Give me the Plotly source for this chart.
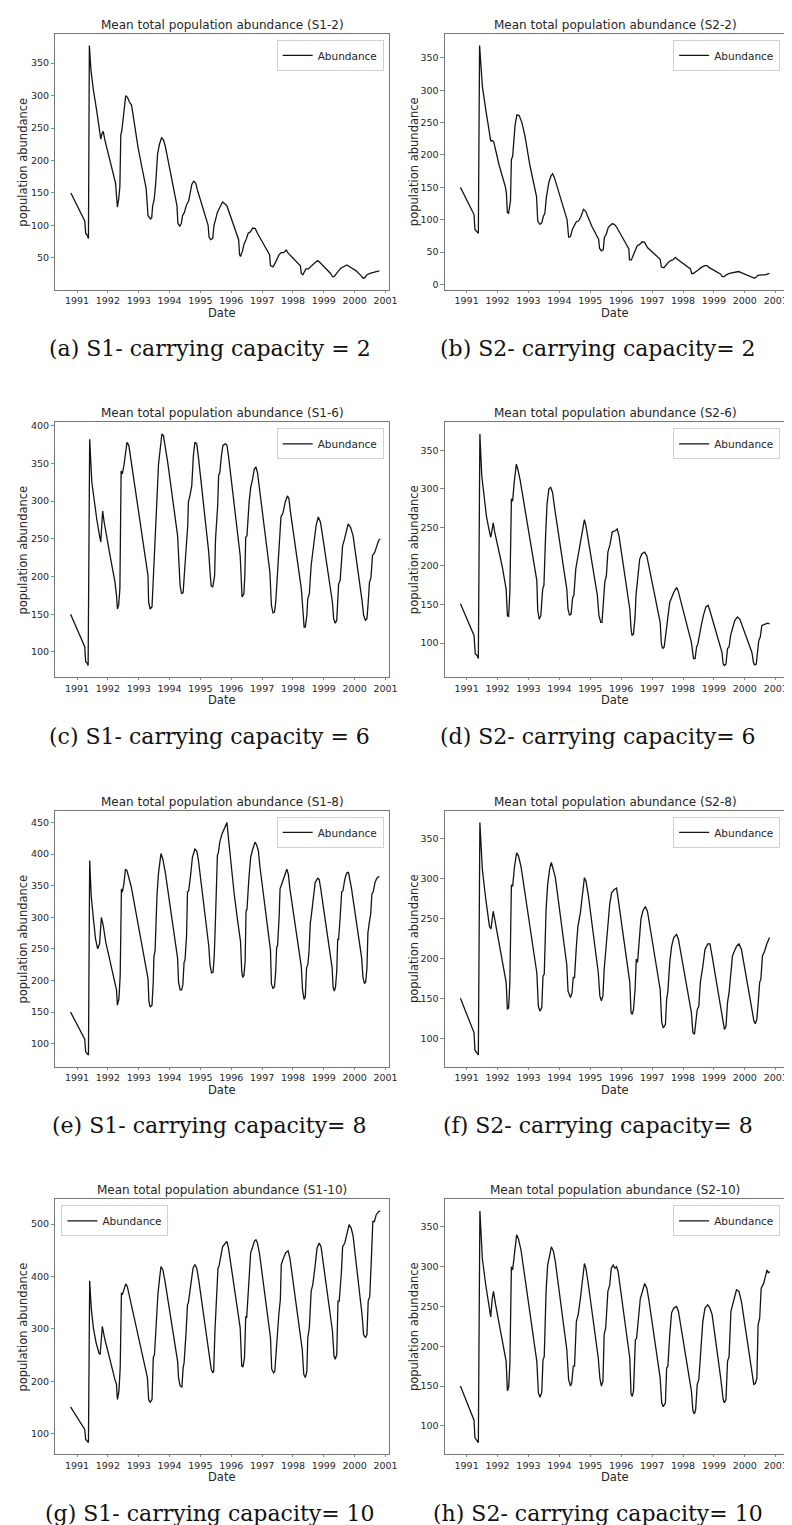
import plotly.graph_objects as go
import pandas as pd

# ---------------- data (decimal year, mean total population abundance) ----------------
s1_2 = [(1990.80,150),(1991.25,107),(1991.28,88),(1991.34,84),(1991.37,80),(1991.40,377),(1991.45,340),(1991.52,312),
        (1991.64,276),(1991.77,233),(1991.80,240),(1991.85,245),(1991.90,232),(1992.05,205),(1992.25,165),(1992.31,128),
        (1992.35,140),(1992.39,160),(1992.42,240),(1992.45,245),(1992.52,270),(1992.58,300),(1992.64,297),(1992.70,290),
        (1992.77,285),(1992.98,220),(1993.10,190),(1993.24,157),(1993.30,115),(1993.38,110),(1993.42,112),(1993.45,130),
        (1993.50,140),(1993.55,165),(1993.61,210),(1993.67,225),(1993.74,235),(1993.80,232),(1993.86,222),(1994.05,175),
        (1994.24,130),(1994.27,103),(1994.33,99),(1994.38,103),(1994.42,115),(1994.48,120),(1994.55,132),(1994.62,138),
        (1994.67,150),(1994.72,163),(1994.78,168),(1994.85,165),(1994.90,155),(1995.25,100),(1995.28,82),(1995.33,78),
        (1995.40,80),(1995.44,100),(1995.48,107),(1995.55,120),(1995.65,130),(1995.72,136),(1995.80,133),(1995.86,130),
        (1996.24,78),(1996.27,55),(1996.30,52),(1996.36,60),(1996.42,72),(1996.48,78),(1996.55,88),(1996.62,90),
        (1996.70,96),(1996.78,95),(1996.85,88),(1997.24,55),(1997.27,38),(1997.35,36),(1997.40,40),(1997.47,48),
        (1997.55,55),(1997.62,58),(1997.70,58),(1997.78,62),(1997.85,57),(1998.24,38),(1998.27,26),(1998.32,24),
        (1998.38,30),(1998.42,33),(1998.50,33),(1998.60,38),(1998.70,42),(1998.80,46),(1998.85,44),(1999.22,26),
        (1999.28,21),(1999.33,21),(1999.40,26),(1999.48,30),(1999.55,34),(1999.65,37),(1999.75,39),(1999.85,36),
        (2000.05,30),(2000.22,22),(2000.27,19),(2000.32,19),(2000.40,24),(2000.50,26),(2000.60,28),(2000.70,29),(2000.80,30)]

s2_2 = [(1990.80,150),(1991.24,108),(1991.27,85),(1991.35,81),(1991.38,79),(1991.42,369),(1991.51,306),(1991.62,270),
        (1991.74,229),(1991.78,222),(1991.84,222),(1991.88,220),(1992.05,185),(1992.26,150),(1992.29,140),(1992.32,111),
        (1992.36,110),(1992.42,129),(1992.45,193),(1992.49,198),(1992.57,247),(1992.63,262),(1992.70,261),(1992.79,250),
        (1992.89,229),(1993.05,183),(1993.26,136),(1993.30,98),(1993.37,93),(1993.43,95),(1993.48,105),(1993.53,110),
        (1993.58,135),(1993.66,158),(1993.73,168),(1993.78,171),(1993.84,165),(1994.05,130),(1994.25,100),(1994.30,73),
        (1994.36,74),(1994.42,85),(1994.48,90),(1994.55,97),(1994.62,98),(1994.70,105),(1994.78,116),(1994.85,113),
        (1995.05,90),(1995.27,70),(1995.30,56),(1995.36,52),(1995.42,54),(1995.46,73),(1995.52,78),(1995.58,88),
        (1995.66,92),(1995.72,94),(1995.80,92),(1995.86,88),(1996.25,55),(1996.27,38),(1996.33,38),(1996.38,44),
        (1996.45,52),(1996.52,60),(1996.60,62),(1996.68,66),(1996.76,65),(1996.85,57),(1997.26,39),(1997.30,27),
        (1997.38,26),(1997.45,31),(1997.52,34),(1997.60,37),(1997.67,38),(1997.75,42),(1997.82,39),(1998.24,24),
        (1998.28,17),(1998.33,17),(1998.40,20),(1998.48,22),(1998.58,26),(1998.70,29),(1998.78,29),(1998.85,26),
        (1999.22,16),(1999.27,12),(1999.33,12),(1999.40,15),(1999.50,17),(1999.60,18),(1999.70,20),(1999.80,20),
        (1999.90,18),(2000.10,14),(2000.24,11),(2000.30,10),(2000.36,11),(2000.42,14),(2000.55,15),(2000.65,15),(2000.80,17)]

s1_6 = [(1990.79,150),(1991.25,107),(1991.28,87),(1991.33,85),(1991.36,82),(1991.41,382),(1991.48,325),(1991.56,299),
        (1991.64,276),(1991.73,254),(1991.77,246),(1991.83,287),(1991.88,272),(1992.07,228),(1992.23,193),(1992.28,175),
        (1992.31,157),(1992.35,162),(1992.39,184),(1992.43,340),(1992.47,336),(1992.52,347),(1992.58,367),(1992.62,378),
        (1992.68,374),(1992.73,360),(1992.98,290),(1993.30,201),(1993.32,166),(1993.37,157),(1993.43,160),(1993.46,184),
        (1993.49,224),(1993.53,237),(1993.59,303),(1993.64,349),(1993.69,371),(1993.75,389),(1993.80,387),(1993.86,371),
        (1993.94,351),(1994.26,254),(1994.31,219),(1994.34,188),(1994.39,177),(1994.44,179),(1994.49,210),(1994.55,243),
        (1994.59,268),(1994.61,299),(1994.66,307),(1994.72,321),(1994.77,360),(1994.82,378),(1994.88,376),(1994.93,360),
        (1995.27,232),(1995.32,201),(1995.35,188),(1995.40,186),(1995.46,201),(1995.49,250),(1995.56,294),(1995.59,334),
        (1995.63,338),(1995.68,360),(1995.73,374),(1995.81,376),(1995.86,374),(1995.91,360),(1996.29,228),(1996.32,201),
        (1996.35,173),(1996.41,177),(1996.44,201),(1996.47,252),(1996.51,254),(1996.58,299),(1996.63,318),(1996.69,329),
        (1996.75,343),(1996.80,345),(1996.85,338),(1997.25,206),(1997.30,162),(1997.35,152),(1997.40,153),(1997.44,166),
        (1997.48,195),(1997.53,217),(1997.58,254),(1997.61,279),(1997.68,285),(1997.75,299),(1997.82,307),(1997.87,303),
        (1997.92,285),(1998.27,184),(1998.32,157),(1998.36,133),(1998.40,133),(1998.45,149),(1998.48,171),(1998.53,177),
        (1998.59,215),(1998.64,232),(1998.69,243),(1998.75,268),(1998.82,279),(1998.89,272),(1998.96,254),(1999.28,166),
        (1999.32,144),(1999.37,138),(1999.42,142),(1999.45,166),(1999.48,190),(1999.53,195),(1999.57,215),(1999.61,241),
        (1999.66,248),(1999.73,259),(1999.79,270),(1999.87,265),(1999.95,254),(2000.24,168),(2000.29,149),(2000.35,142),
        (2000.40,144),(2000.44,166),(2000.48,192),(2000.53,199),(2000.58,228),(2000.65,232),(2000.72,241),(2000.78,248),
        (2000.83,250)]

s2_6 = [(1990.80,151),(1991.24,110),(1991.28,86),(1991.34,84),(1991.38,80),(1991.43,371),(1991.49,317),(1991.56,291),
        (1991.64,265),(1991.72,248),(1991.78,237),(1991.83,248),(1991.86,256),(1991.91,244),(1992.15,200),(1992.28,170),
        (1992.32,136),(1992.36,134),(1992.40,166),(1992.45,287),(1992.49,284),(1992.54,308),(1992.61,332),(1992.66,325),
        (1992.73,312),(1993.27,181),(1993.30,142),(1993.35,131),(1993.40,136),(1993.46,170),(1993.50,175),(1993.55,235),
        (1993.60,280),(1993.66,300),(1993.72,302),(1993.78,295),(1993.85,274),(1994.24,170),(1994.28,144),(1994.33,136),
        (1994.38,138),(1994.43,159),(1994.47,162),(1994.53,196),(1994.60,213),(1994.67,231),(1994.76,252),(1994.81,260),
        (1994.86,252),(1995.23,162),(1995.28,136),(1995.34,127),(1995.38,127),(1995.43,153),(1995.47,179),(1995.52,187),
        (1995.57,218),(1995.64,228),(1995.71,244),(1995.82,246),(1995.87,248),(1995.93,239),(1996.28,144),(1996.32,119),
        (1996.35,110),(1996.40,112),(1996.45,134),(1996.48,162),(1996.53,179),(1996.60,209),(1996.67,216),(1996.76,218),
        (1996.83,213),(1997.26,127),(1997.30,99),(1997.34,93),(1997.39,95),(1997.44,112),(1997.47,119),(1997.53,136),
        (1997.57,153),(1997.63,159),(1997.70,166),(1997.79,172),(1997.84,168),(1998.27,101),(1998.30,90),(1998.34,80),
        (1998.39,80),(1998.44,95),(1998.48,99),(1998.53,108),(1998.59,123),(1998.66,136),(1998.74,147),(1998.81,149),
        (1998.87,142),(1999.26,88),(1999.30,73),(1999.34,71),(1999.39,73),(1999.44,93),(1999.49,95),(1999.54,110),
        (1999.60,119),(1999.67,129),(1999.76,134),(1999.84,131),(2000.23,88),(2000.28,75),(2000.32,72),(2000.37,73),
        (2000.41,88),(2000.45,103),(2000.50,108),(2000.55,123),(2000.62,124),(2000.69,125),(2000.74,126),(2000.80,125)]

s1_8 = [(1990.79,150),(1991.25,107),(1991.28,87),(1991.33,85),(1991.37,82),(1991.41,390),(1991.46,334),(1991.53,298),
        (1991.60,266),(1991.67,250),(1991.73,258),(1991.79,300),(1991.85,287),(1991.93,261),(1992.12,219),(1992.23,192),
        (1992.28,185),(1992.31,161),(1992.36,171),(1992.40,208),(1992.44,345),(1992.47,340),(1992.52,353),(1992.57,376),
        (1992.62,374),(1992.69,361),(1992.76,348),(1993.30,203),(1993.33,166),(1993.37,158),(1993.43,161),(1993.47,198),
        (1993.49,237),(1993.53,248),(1993.59,334),(1993.64,370),(1993.68,385),(1993.72,401),(1993.78,392),(1993.86,371),
        (1994.26,235),(1994.29,198),(1994.34,185),(1994.39,185),(1994.43,193),(1994.47,229),(1994.50,232),(1994.55,271),
        (1994.58,340),(1994.62,342),(1994.68,366),(1994.74,395),(1994.82,408),(1994.88,405),(1994.93,392),(1995.27,255),
        (1995.31,225),(1995.36,212),(1995.41,213),(1995.45,240),(1995.49,300),(1995.55,398),(1995.58,402),(1995.63,420),
        (1995.70,432),(1995.78,440),(1995.86,450),(1995.92,420),(1996.00,380),(1996.10,335),(1996.22,290),(1996.30,262),
        (1996.34,215),(1996.37,205),(1996.41,208),(1996.45,230),(1996.48,310),(1996.51,312),(1996.57,360),(1996.63,395),
        (1996.68,405),(1996.77,419),(1996.82,415),(1996.88,405),(1996.93,380),(1997.27,248),(1997.30,195),(1997.35,187),
        (1997.40,190),(1997.44,215),(1997.47,253),(1997.50,255),(1997.55,300),(1997.58,345),(1997.63,352),(1997.68,360),
        (1997.75,372),(1997.80,376),(1997.85,368),(1997.90,345),(1998.27,222),(1998.31,185),(1998.36,170),(1998.40,175),
        (1998.44,220),(1998.48,225),(1998.52,245),(1998.56,290),(1998.60,305),(1998.66,335),(1998.72,355),(1998.80,362),
        (1998.85,360),(1998.90,345),(1999.27,220),(1999.30,190),(1999.34,183),(1999.38,190),(1999.42,215),(1999.45,265),
        (1999.48,265),(1999.53,300),(1999.58,340),(1999.62,342),(1999.68,360),(1999.74,370),(1999.80,371),(1999.85,358),
        (1999.90,345),(2000.23,235),(2000.27,205),(2000.32,195),(2000.36,198),(2000.40,220),(2000.43,275),(2000.47,290),
        (2000.52,305),(2000.56,337),(2000.60,340),(2000.66,355),(2000.72,362),(2000.80,365)]

s2_8 = [(1990.80,150),(1991.24,107),(1991.27,85),(1991.34,82),(1991.38,79),(1991.43,370),(1991.51,311),(1991.62,274),
        (1991.74,240),(1991.79,237),(1991.86,259),(1991.91,249),(1992.28,170),(1992.32,136),(1992.36,138),(1992.40,170),
        (1992.45,292),(1992.49,290),(1992.55,315),(1992.62,332),(1992.68,328),(1992.76,315),(1993.27,182),(1993.32,140),
        (1993.37,134),(1993.43,138),(1993.47,178),(1993.51,180),(1993.57,261),(1993.62,292),(1993.69,313),(1993.74,320),
        (1993.81,311),(1993.87,301),(1994.24,192),(1994.28,159),(1994.36,151),(1994.41,157),(1994.45,176),(1994.49,176),
        (1994.55,215),(1994.60,240),(1994.68,257),(1994.76,286),(1994.81,301),(1994.86,297),(1994.94,278),(1995.26,182),
        (1995.31,153),(1995.36,147),(1995.41,153),(1995.45,186),(1995.50,211),(1995.57,249),(1995.63,268),(1995.69,282),
        (1995.77,286),(1995.85,288),(1995.89,278),(1996.28,170),(1996.32,132),(1996.36,130),(1996.40,136),(1996.45,161),
        (1996.49,199),(1996.53,195),(1996.59,228),(1996.64,249),(1996.70,259),(1996.78,265),(1996.85,259),(1997.26,161),
        (1997.31,120),(1997.36,113),(1997.43,117),(1997.47,149),(1997.51,159),(1997.57,195),(1997.63,215),(1997.70,226),
        (1997.79,230),(1997.85,224),(1998.27,132),(1998.32,107),(1998.37,105),(1998.41,120),(1998.46,136),(1998.51,140),
        (1998.56,170),(1998.64,190),(1998.71,211),(1998.80,218),(1998.87,218),(1998.94,203),(1999.22,136),(1999.30,115),
        (1999.34,111),(1999.39,115),(1999.44,145),(1999.49,157),(1999.55,182),(1999.60,203),(1999.66,209),(1999.73,215),
        (1999.81,218),(1999.89,211),(2000.23,136),(2000.29,122),(2000.34,118),(2000.39,124),(2000.45,153),(2000.48,170),
        (2000.52,174),(2000.57,203),(2000.64,209),(2000.71,218),(2000.80,226)]

s1_10 = [(1990.79,151),(1991.25,108),(1991.28,89),(1991.34,86),(1991.37,83),(1991.41,392),(1991.46,340),(1991.53,302),
         (1991.62,273),(1991.71,254),(1991.75,251),(1991.82,305),(1991.89,283),(1992.23,203),(1992.28,194),(1992.31,165),
         (1992.36,181),(1992.40,226),(1992.44,369),(1992.47,365),(1992.52,375),(1992.58,386),(1992.63,381),(1992.71,359),
         (1993.28,207),(1993.32,165),(1993.37,160),(1993.43,165),(1993.47,245),(1993.51,251),(1993.56,308),(1993.62,365),
         (1993.67,394),(1993.72,419),(1993.78,413),(1993.85,391),(1994.26,238),(1994.29,207),(1994.34,191),(1994.40,189),
         (1994.44,226),(1994.47,235),(1994.53,289),(1994.58,346),(1994.61,350),(1994.69,384),(1994.76,416),(1994.82,423),
         (1994.88,416),(1994.95,391),(1995.29,251),(1995.35,223),(1995.40,216),(1995.43,219),(1995.47,295),(1995.52,346),
         (1995.57,416),(1995.60,419),(1995.66,442),(1995.72,457),(1995.79,462),(1995.86,467),(1995.91,454),(1996.29,302),
         (1996.34,229),(1996.38,227),(1996.43,245),(1996.47,324),(1996.50,321),(1996.58,400),(1996.63,445),(1996.68,454),
         (1996.75,467),(1996.80,470),(1996.85,464),(1996.92,442),(1997.27,283),(1997.31,223),(1997.37,216),(1997.41,219),
         (1997.45,257),(1997.50,308),(1997.54,327),(1997.59,356),(1997.62,423),(1997.69,435),(1997.76,445),(1997.84,449),
         (1997.90,435),(1998.30,261),(1998.35,213),(1998.40,207),(1998.45,219),(1998.48,283),(1998.53,302),(1998.59,372),
         (1998.64,384),(1998.71,416),(1998.78,454),(1998.85,464),(1998.91,457),(1999.28,296),(1999.33,248),(1999.37,242),
         (1999.42,251),(1999.46,353),(1999.50,353),(1999.57,407),(1999.61,457),(1999.68,464),(1999.76,483),(1999.82,499),
         (1999.89,492),(1999.95,477),(2000.24,327),(2000.29,289),(2000.35,283),(2000.40,289),(2000.44,353),(2000.49,362),
         (2000.54,430),(2000.59,505),(2000.64,505),(2000.70,518),(2000.78,524),(2000.83,525)]

s2_10 = [(1990.80,150),(1991.24,107),(1991.27,85),(1991.34,82),(1991.38,79),(1991.43,370),(1991.51,310),(1991.62,277),
         (1991.72,252),(1991.78,237),(1991.83,260),(1991.87,269),(1991.94,252),(1992.28,181),(1992.32,144),(1992.36,148),
         (1992.40,177),(1992.45,300),(1992.49,296),(1992.55,319),(1992.62,340),(1992.68,335),(1992.76,321),(1993.27,181),
         (1993.32,142),(1993.37,136),(1993.43,142),(1993.47,183),(1993.51,187),(1993.57,269),(1993.62,302),(1993.69,315),
         (1993.74,325),(1993.81,319),(1993.87,306),(1994.24,196),(1994.30,158),(1994.36,150),(1994.40,154),(1994.45,175),
         (1994.49,175),(1994.55,231),(1994.61,240),(1994.68,260),(1994.76,290),(1994.81,304),(1994.86,298),(1994.94,277),
         (1995.26,185),(1995.31,160),(1995.36,150),(1995.41,156),(1995.45,215),(1995.50,223),(1995.57,269),(1995.63,277),
         (1995.68,298),(1995.74,302),(1995.80,298),(1995.85,300),(1995.90,294),(1996.28,185),(1996.32,140),(1996.36,137),
         (1996.40,144),(1996.46,208),(1996.50,210),(1996.56,235),(1996.62,260),(1996.69,269),(1996.76,279),(1996.83,273),
         (1996.89,260),(1997.26,160),(1997.31,129),(1997.36,124),(1997.43,129),(1997.47,173),(1997.51,175),(1997.57,215),
         (1997.63,242),(1997.70,248),(1997.79,250),(1997.85,244),(1998.27,144),(1998.32,119),(1998.37,115),(1998.41,121),
         (1998.46,152),(1998.51,158),(1998.56,185),(1998.64,231),(1998.71,248),(1998.80,252),(1998.87,248),(1998.94,240),
         (1999.22,160),(1999.30,133),(1999.34,129),(1999.39,133),(1999.44,181),(1999.49,187),(1999.55,244),(1999.60,252),
         (1999.66,260),(1999.73,271),(1999.81,269),(1999.89,256),(2000.21,173),(2000.29,152),(2000.34,153),(2000.39,160),
         (2000.43,227),(2000.48,235),(2000.53,273),(2000.61,279),(2000.68,290),(2000.72,296),(2000.76,292),(2000.80,294)]

series_names = ["S1-2", "S2-2", "S1-6", "S2-6", "S1-8", "S2-8", "S1-10", "S2-10"]
series_data = [s1_2, s2_2, s1_6, s2_6, s1_8, s2_8, s1_10, s2_10]
captions = ["(a) S1- carrying capacity = 2", "(b) S2- carrying capacity= 2",
            "(c) S1- carrying capacity = 6", "(d) S2- carrying capacity= 6",
            "(e) S1- carrying capacity= 8", "(f) S2- carrying capacity= 8",
            "(g) S1- carrying capacity= 10", "(h) S2- carrying capacity= 10"]
y_dticks = [50, 50, 50, 50, 50, 50, 100, 50]
year_ticks = list(range(1991, 2002))

# ---------------- layout geometry (pixels) ----------------
W, H = 792, 1525
COLS = [(48, 385), (442, 786)]
ROWS = [(24, 280), (413, 668), (802, 1058), (1191, 1446)]
X_END = [2001.10, 2001.30]
CAP_X = [204, 597]
YLAB_X = [15, 410]
LEGEND_LEFT = {6}

TXT = "#262626"
FONT = "DejaVu Sans"


def to_date(y):
    yr = int(y)
    frac = y - yr
    return pd.Timestamp(year=yr, month=1, day=1) + pd.Timedelta(days=frac * 365.25)


def fx(p):
    return p / W


def fy(p):
    return 1 - p / H


fig = go.Figure()
layout = {}
annotations = []

for i, (name, data) in enumerate(zip(series_names, series_data)):
    n = i + 1
    col, row = i % 2, i // 2
    x0, x1 = COLS[col]
    top, bot = ROWS[row]
    sfx = "" if n == 1 else str(n)
    t, v = zip(*data)
    dates = [to_date(a) for a in t]
    fig.add_trace(go.Scatter(
        x=dates, y=list(v), mode="lines", name="Abundance",
        line=dict(color="#141414", width=1.3),
        xaxis="x" + sfx, yaxis="y" + sfx, legend="legend" + sfx, showlegend=True,
    ))
    vmin, vmax = min(v), max(v)
    span = vmax - vmin
    layout["xaxis" + sfx] = dict(
        domain=[fx(x0), fx(x1)], anchor="y" + sfx, type="date",
        range=[to_date(1990.30), to_date(X_END[col])],
        tickvals=[pd.Timestamp(year=yy, month=1, day=1) for yy in year_ticks],
        ticktext=[str(yy) for yy in year_ticks],
        ticks="outside", ticklen=2, tickcolor="#888",
        showline=True, mirror=True, linecolor="#777", linewidth=1,
        showgrid=False, zeroline=False,
        tickfont=dict(family=FONT, size=9.5, color=TXT),
    )
    layout["yaxis" + sfx] = dict(
        domain=[fy(bot), fy(top)], anchor="x" + sfx,
        range=[vmin - 0.05 * span, vmax + 0.05 * span], dtick=y_dticks[i], tick0=0,
        ticks="outside", ticklen=3.5, tickcolor="#888",
        showline=True, mirror=True, linecolor="#777", linewidth=1,
        showgrid=False, zeroline=False,
        tickfont=dict(family=FONT, size=9.5, color=TXT),
    )
    if i in LEGEND_LEFT:
        lx, xa = fx(x0 + 6), "left"
    else:
        lx, xa = fx(x1 - 5), "right"
    layout["legend" + sfx] = dict(
        x=lx, y=fy(top + 6), xanchor=xa, yanchor="top",
        bgcolor="white", bordercolor="#d0d0d0", borderwidth=1,
        font=dict(family=FONT, size=10.5, color=TXT), itemwidth=30,
    )
    cx = (x0 + x1) / 2
    annotations += [
        dict(text=f"Mean total population abundance ({name})", x=fx(cx), y=fy(top - 9),
             xref="paper", yref="paper", showarrow=False, xanchor="center", yanchor="middle",
             font=dict(family=FONT, size=12, color=TXT)),
        dict(text="Date", x=fx(cx), y=fy(bot + 23), xref="paper", yref="paper", showarrow=False,
             xanchor="center", yanchor="middle", font=dict(family=FONT, size=11.5, color=TXT)),
        dict(text="population abundance", x=fx(YLAB_X[col]), y=fy((top + bot) / 2),
             xref="paper", yref="paper", showarrow=False, textangle=-90,
             xanchor="center", yanchor="middle", font=dict(family=FONT, size=11.5, color=TXT)),
        dict(text=captions[i], x=fx(CAP_X[col]), y=fy(bot + 59), xref="paper", yref="paper",
             showarrow=False, xanchor="center", yanchor="middle",
             font=dict(family="DejaVu Serif", size=22, color="#111")),
    ]

fig.update_layout(
    width=W, height=H, margin=dict(l=0, r=0, t=0, b=0),
    plot_bgcolor="white", paper_bgcolor="white",
    annotations=annotations, **layout,
)

fig.write_html("out.html")
